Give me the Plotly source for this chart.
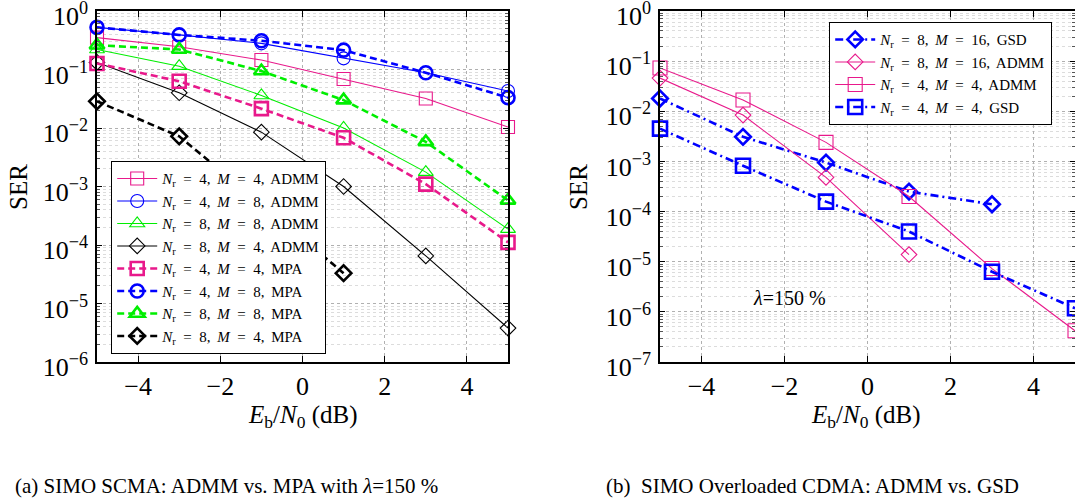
import plotly.graph_objects as go

# ---------------- data ----------------
snr = [-5, -3, -1, 1, 3, 5]

# (a) SIMO SCMA
admm_n4_m4 = [0.35, 0.245, 0.145, 0.069, 0.032, 0.0104]
admm_n4_m8 = [0.525, 0.39, 0.28, 0.155, 0.088, 0.043]
admm_n8_m8 = [0.22, 0.114, 0.036, 0.010, 0.00176, 0.000187]
admm_n8_m4 = [0.132, 0.040, 0.0085, 0.001, 6.5e-5, 3.8e-6]
mpa_n4_m4 = [0.127, 0.063, 0.0214, 0.0068, 0.0011, 0.000111]
mpa_n4_m8 = [0.525, 0.39, 0.31, 0.214, 0.088, 0.033]
mpa_n8_m8 = [0.26, 0.22, 0.094, 0.030, 0.0058, 0.00058]
snr_mpa_n8_m4 = [-5, -3, -1, 1]
mpa_n8_m4 = [0.0286, 0.0072, 5e-4, 3.3e-5]

# (b) SIMO overloaded CDMA
snr_gsd_n8_m16 = [-5, -3, -1, 1, 3]
gsd_n8_m16 = [0.018, 0.0031, 0.00095, 0.00025, 0.00014]
snr_admm_n8_m16 = [-5, -3, -1, 1]
admm_n8_m16 = [0.046, 0.0084, 0.00048, 1.39e-5]
admm_b_n4_m4 = [0.073, 0.0168, 0.0024, 0.0002, 7.3e-6, 4.2e-7]
gsd_n4_m4 = [0.0045, 0.00082, 0.000158, 4.0e-5, 6.3e-6, 1.18e-6]

xticks = [-4, -2, 0, 2, 4]
xtick_text = ["\u22124", "\u22122", "0", "2", "4"]

# ---------------- style ----------------
FONT = "Liberation Serif"
PINK = "#e8198b"
BLUE = "#0000ff"
GREEN = "#00ee00"
BLACK = "#000000"
W, H = 1075, 503
SP = "\u2002"  # wider spacing like math mode
CS = "\u2009"  # extra thin space after commas


def px_x(p):
    return p / W


def px_y(p):
    return 1 - p / H


def name(nr, m, alg):
    return (f"<i>N</i><sub>r</sub>{SP}={SP}{nr},{CS} <i>M</i>{SP}={SP}{m},{CS} {alg}")


fig = go.Figure()


def add(x, y, nm, color, symbol, dash, lw, mlw, size, xa, ya, legend):
    fig.add_trace(go.Scatter(
        x=x, y=y, name=nm, mode="lines+markers",
        line=dict(color=color, width=lw, dash=dash),
        marker=dict(symbol=symbol, size=size, color=color,
                    line=dict(color=color, width=mlw)),
        xaxis=xa, yaxis=ya, legend=legend, cliponaxis=False,
    ))


MPA_DASH = "7px,4px"
GSD_DASH = "8px,4px,2px,4px"

# left
add(snr, admm_n4_m4, name(4, 4, "ADMM"), PINK, "square-open", "solid", 1.1, 1.1, 13, "x", "y", "legend")
add(snr, admm_n4_m8, name(4, 8, "ADMM"), BLUE, "circle-open", "solid", 1.1, 1.1, 13, "x", "y", "legend")
add(snr, admm_n8_m8, name(8, 8, "ADMM"), GREEN, "triangle-up-open", "solid", 1.1, 1.1, 13, "x", "y", "legend")
add(snr, admm_n8_m4, name(8, 4, "ADMM"), BLACK, "diamond-open", "solid", 1.1, 1.1, 12, "x", "y", "legend")
add(snr, mpa_n4_m4, name(4, 4, "MPA"), PINK, "square-open", MPA_DASH, 2.6, 2.6, 13, "x", "y", "legend")
add(snr, mpa_n4_m8, name(4, 8, "MPA"), BLUE, "circle-open", MPA_DASH, 2.6, 2.6, 13, "x", "y", "legend")
add(snr, mpa_n8_m8, name(8, 8, "MPA"), GREEN, "triangle-up-open", MPA_DASH, 2.6, 2.6, 13, "x", "y", "legend")
add(snr_mpa_n8_m4, mpa_n8_m4, name(8, 4, "MPA"), BLACK, "diamond-open", MPA_DASH, 2.6, 2.6, 12, "x", "y", "legend")

# right
add(snr_gsd_n8_m16, gsd_n8_m16, name(8, 16, "GSD"), BLUE, "diamond-open", GSD_DASH, 2.6, 2.6, 12, "x2", "y2", "legend2")
add(snr_admm_n8_m16, admm_n8_m16, name(8, 16, "ADMM"), PINK, "diamond-open", "solid", 1.1, 1.1, 12, "x2", "y2", "legend2")
add(snr, admm_b_n4_m4, name(4, 4, "ADMM"), PINK, "square-open", "solid", 1.1, 1.1, 14, "x2", "y2", "legend2")
add(snr, gsd_n4_m4, name(4, 4, "GSD"), BLUE, "square-open", GSD_DASH, 2.6, 2.6, 14, "x2", "y2", "legend2")


def yaxis_cfg(lo, domain):
    vals = [10.0 ** e for e in range(lo, 1)]
    txt = [f"10<sup>{'\u2212' if e < 0 else ''}{abs(e)}</sup>" for e in range(lo, 1)]
    minor_vals = [m * 10.0 ** e for e in range(lo, 0) for m in range(2, 10)]
    return dict(
        type="log", range=[lo, 0], domain=domain, automargin=False,
        tickmode="array", tickvals=vals, ticktext=txt,
        ticks="inside", ticklen=5, tickcolor="black", tickwidth=1,
        showline=True, linecolor="black", linewidth=1.5, mirror="allticks",
        showgrid=True, gridcolor="#b0b0b0", griddash="dot", gridwidth=1,
        minor=dict(tickmode="array", tickvals=minor_vals, ticks="inside",
                   ticklen=3, tickcolor="#555555", showgrid=True,
                   gridcolor="#dcdcdc", griddash="dot", gridwidth=1),
        tickfont=dict(family=FONT, size=26, color="black"),
        ticklabeloverflow="allow", ticklabelstandoff=2, ticklabelshift=5,
        zeroline=False,
    )


def xaxis_cfg(domain, anchor):
    return dict(
        range=[-5, 5], domain=domain, anchor=anchor, automargin=False,
        tickmode="array", tickvals=xticks, ticktext=xtick_text,
        ticks="inside", ticklen=6, tickcolor="black",
        showline=True, linecolor="black", linewidth=1.5, mirror="allticks",
        showgrid=True, gridcolor="#b0b0b0", griddash="dot", gridwidth=1,
        tickfont=dict(family=FONT, size=26, color="black"),
        ticklabeloverflow="allow",
        zeroline=False,
    )


ydom = [px_y(362), px_y(11)]
fig.update_layout(
    width=W, height=H,
    margin=dict(l=0, r=0, t=0, b=0, autoexpand=False),
    paper_bgcolor="white", plot_bgcolor="white",
    font=dict(family=FONT, color="black"),
    xaxis=xaxis_cfg([px_x(97), px_x(508)], "y"),
    yaxis=yaxis_cfg(-6, ydom) | dict(anchor="x"),
    xaxis2=xaxis_cfg([px_x(660), 1.0], "y2"),
    yaxis2=yaxis_cfg(-7, ydom) | dict(anchor="x2"),
    legend=dict(x=px_x(111), y=px_y(161), xanchor="left", yanchor="top",
                bgcolor="white", bordercolor="black", borderwidth=1.2,
                font=dict(family=FONT, size=15, color="black"),
                tracegroupgap=0, itemwidth=40),
    legend2=dict(x=px_x(829), y=px_y(22), xanchor="left", yanchor="top",
                 bgcolor="white", bordercolor="black", borderwidth=1.2,
                 font=dict(family=FONT, size=15, color="black"),
                 tracegroupgap=0, itemwidth=40),
    showlegend=True,
)

ann_font = dict(family=FONT, size=25, color="black")
annotations = [
    dict(text="SER", x=px_x(18), y=px_y(187), textangle=-90, font=ann_font),
    dict(text="SER", x=px_x(578), y=px_y(187), textangle=-90, font=ann_font),
    dict(text="<i>E</i><sub>b</sub>/<i>N</i><sub>0</sub> (dB)", x=px_x(303), y=px_y(416), font=ann_font),
    dict(text="<i>E</i><sub>b</sub>/<i>N</i><sub>0</sub> (dB)", x=px_x(866), y=px_y(416), font=ann_font),
    dict(text="(a) SIMO SCMA: ADMM vs. MPA with <i>\u03bb</i>=150 %", x=px_x(226), y=px_y(486),
         font=dict(family=FONT, size=21, color="black")),
    dict(text="(b)  SIMO Overloaded CDMA: ADMM vs. GSD", x=px_x(812), y=px_y(486),
         font=dict(family=FONT, size=21, color="black")),
    dict(text="<i>\u03bb</i>=150 %", x=px_x(789), y=px_y(298),
         font=dict(family=FONT, size=20, color="black")),
]
for a in annotations:
    a.update(xref="paper", yref="paper", showarrow=False, xanchor="center", yanchor="middle")
fig.update_layout(annotations=annotations)

fig.write_html("out.html",
               config={"displayModeBar": False},
               post_script="document.body.style.margin='0';document.body.style.overflow='hidden';")
